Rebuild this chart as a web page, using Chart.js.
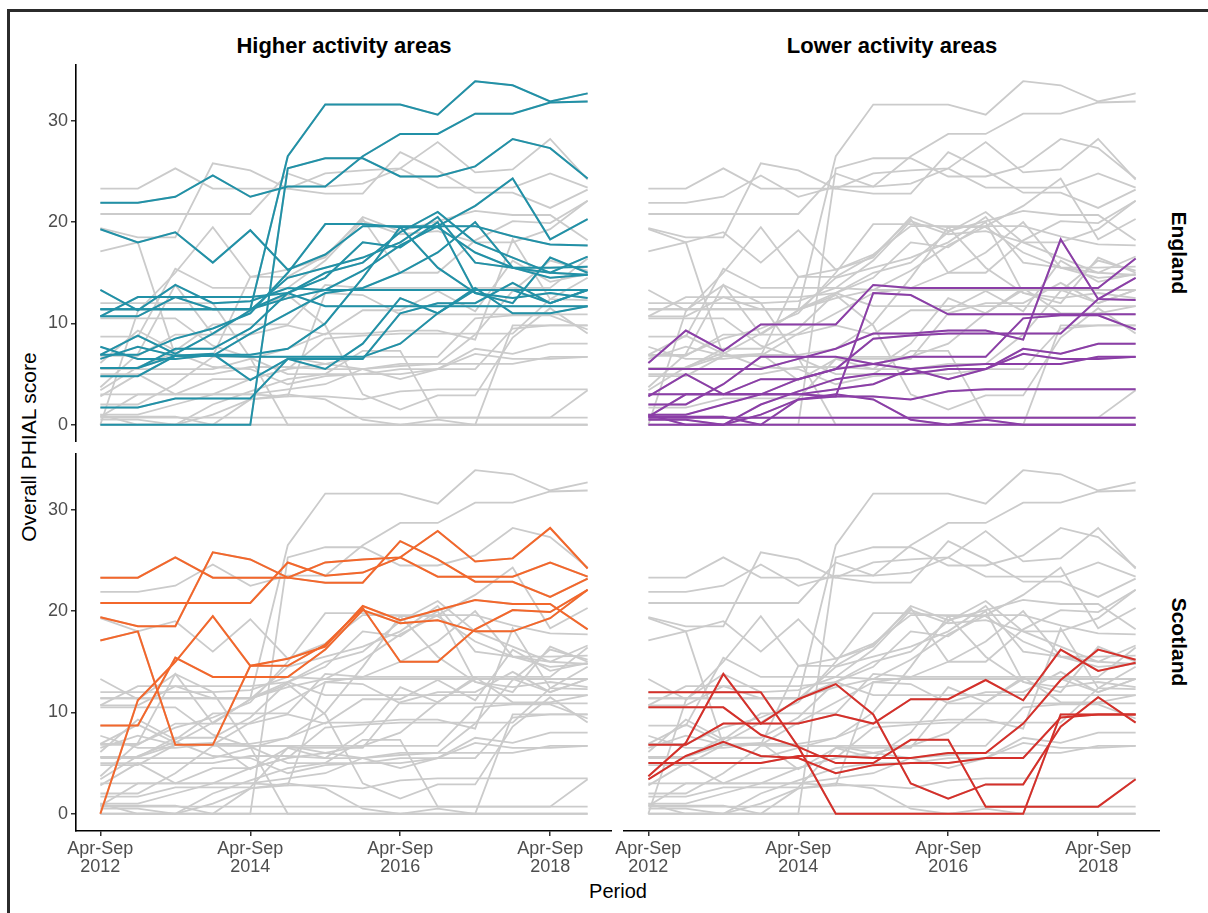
<!DOCTYPE html>
<html>
<head>
<meta charset="utf-8">
<script src="https://cdn.jsdelivr.net/npm/chart.js@4.4.1/dist/chart.umd.min.js"></script>
<style>
  body { margin: 0; width: 1208px; height: 913px; background: #fff; position: relative; overflow: hidden;
         font-family: "Liberation Sans", Arial, sans-serif; }
  .frame { position: absolute; left: 7px; top: 9px; width: 1300px; height: 1000px; border: 3px solid #2b2b2b; }
  canvas { position: absolute; }
  .lbl { position: absolute; white-space: nowrap; color: #000; line-height: 1; }
  .title { font-weight: bold; font-size: 22px; transform: translate(-50%, -50%); }
  .strip { font-weight: bold; font-size: 21px; transform: translate(-50%, -50%) rotate(90deg); }
  .axis { font-size: 20px; transform: translate(-50%, -50%); }
</style>
</head>
<body>
<div class="frame"></div>

<div class="lbl title" style="left:344px;top:46px">Higher activity areas</div>
<div class="lbl title" style="left:892px;top:46px">Lower activity areas</div>
<div class="lbl strip" style="left:1179px;top:253px">England</div>
<div class="lbl strip" style="left:1179px;top:642px">Scotland</div>
<div class="lbl axis" style="left:28px;top:447px;font-size:21px;transform:translate(-50%,-50%) rotate(-90deg)">Overall PHIAL score</div>
<div class="lbl axis" style="left:618px;top:891px">Period</div>

<canvas id="c1" width="572" height="378" style="left:40px;top:64px"></canvas>
<canvas id="c2" width="536" height="378" style="left:624px;top:64px"></canvas>
<canvas id="c3" width="572" height="460" style="left:40px;top:453px"></canvas>
<canvas id="c4" width="560" height="460" style="left:600px;top:453px"></canvas>

<script>
// Half-year periods
const periods = ['Apr-Sep 2012', 'Oct-Mar 2012/13', 'Apr-Sep 2013', 'Oct-Mar 2013/14',
  'Apr-Sep 2014', 'Oct-Mar 2014/15', 'Apr-Sep 2015', 'Oct-Mar 2015/16',
  'Apr-Sep 2016', 'Oct-Mar 2016/17', 'Apr-Sep 2017', 'Oct-Mar 2017/18',
  'Apr-Sep 2018', 'Oct-Mar 2018/19'];
const xTicks = [0, 4, 8, 12];
const yTicks = [0, 10, 20, 30];

// England, higher activity areas
const englandHigher = [
  [11.4, 11.4, 11.4, 11.4, 11.4, 26.5, 31.6, 31.6, 31.6, 30.6, 33.9, 33.5, 31.9, 32.7],
  [0, 0, 0, 0, 0, 25.3, 26.3, 26.3, 24.5, 24.5, 25.5, 28.2, 27.3, 24.3],
  [21.9, 21.9, 22.5, 24.6, 22.5, 23.5, 23.5, 26.5, 28.7, 28.7, 30.7, 30.7, 31.8, 31.9],
  [19.3, 18.0, 19.0, 16.0, 19.2, 15.3, 16.8, 19.6, 19.6, 19.6, 19.6, 18.6, 17.8, 17.7],
  [13.3, 11.3, 13.8, 12.0, 12.2, 13.5, 13.3, 15.2, 17.7, 19.6, 21.6, 24.3, 18.3, 20.3],
  [10.7, 12.6, 12.6, 11.4, 11.4, 13.0, 11.7, 11.7, 11.7, 11.7, 11.7, 11.7, 11.7, 11.7],
  [6.9, 8.8, 7.0, 9.0, 11.3, 14.5, 15.5, 16.5, 18.0, 20.5, 16.0, 15.5, 15.5, 15.6],
  [5.6, 5.6, 7.5, 7.5, 9.5, 13.0, 15.0, 16.0, 19.0, 21.0, 18.0, 16.5, 15.0, 16.6],
  [6.5, 7.7, 6.8, 6.8, 6.7, 6.7, 6.7, 6.7, 8.0, 11.0, 13.3, 13.3, 13.3, 13.3],
  [4.8, 4.8, 6.8, 7.0, 4.4, 6.5, 5.5, 8.0, 12.5, 11.0, 13.5, 11.0, 11.0, 11.7],
  [1.7, 1.7, 2.6, 2.6, 2.6, 6.5, 6.5, 6.5, 11.0, 12.0, 12.0, 14.0, 12.0, 13.3],
  [5.6, 5.6, 6.8, 6.8, 9.0, 11.0, 13.0, 13.5, 15.0, 17.0, 20.0, 15.5, 14.5, 14.8],
  [7.7, 6.5, 6.5, 6.9, 6.9, 7.5, 10.0, 14.5, 19.5, 15.5, 13.0, 12.0, 16.5, 15.0],
  [11.4, 11.4, 11.4, 11.4, 11.4, 12.5, 13.3, 13.3, 13.3, 13.3, 13.3, 13.3, 12.0, 13.3],
  [10.7, 10.7, 12.6, 12.6, 12.6, 13.0, 14.5, 18.0, 17.5, 20.0, 13.0, 12.5, 13.0, 12.5],
  [6.9, 6.9, 8.5, 9.5, 11.0, 15.0, 19.8, 19.8, 19.5, 19.5, 17.0, 15.5, 15.0, 14.8]
];

// England, lower activity areas
const englandLower = [
  [6.1, 9.3, 7.3, 9.9, 9.9, 9.9, 13.8, 13.5, 13.5, 13.5, 13.5, 13.5, 13.5, 16.4],
  [3.0, 3.0, 3.0, 3.0, 3.0, 2.8, 13.0, 12.8, 10.9, 10.9, 10.9, 10.9, 10.9, 10.9],
  [5.5, 5.5, 5.5, 5.5, 6.5, 7.5, 9.0, 9.0, 9.3, 9.3, 8.4, 18.3, 12.4, 12.3],
  [2.8, 5.0, 3.0, 3.0, 4.5, 5.5, 8.5, 8.8, 9.0, 9.0, 9.0, 9.0, 12.4, 14.5],
  [0.8, 3.0, 3.0, 4.5, 4.5, 5.5, 6.0, 6.7, 6.7, 6.7, 10.5, 10.8, 10.8, 9.4],
  [2.0, 2.0, 4.0, 6.7, 6.7, 6.7, 6.0, 5.5, 4.5, 5.5, 7.5, 7.0, 8.0, 8.0],
  [1.0, 1.0, 2.0, 3.0, 3.0, 3.5, 4.0, 5.5, 5.8, 6.0, 6.0, 6.0, 6.7, 6.7],
  [0.5, 0.5, 0.0, 1.0, 2.5, 2.8, 2.8, 2.5, 3.3, 3.5, 3.5, 3.5, 3.5, 3.5],
  [0.8, 0.8, 0.8, 0.0, 2.5, 3.0, 2.5, 0.5, 0.0, 0.5, 0.0, 0.0, 0.0, 0.0],
  [0.7, 0.7, 0.7, 0.7, 0.7, 0.7, 0.7, 0.7, 0.7, 0.7, 0.7, 0.7, 0.7, 0.7],
  [0, 0, 0, 0, 0, 0, 0, 0, 0, 0, 0, 0, 0, 0],
  [1.0, 0.0, 0.0, 2.0, 3.3, 4.5, 5.0, 5.0, 5.5, 5.5, 7.0, 6.5, 6.5, 6.7]
];

// Scotland, higher activity areas
const scotlandHigher = [
  [23.3, 23.3, 25.3, 23.3, 23.3, 23.3, 24.8, 25.1, 25.3, 27.9, 24.9, 25.2, 28.2, 24.2],
  [19.4, 18.5, 18.5, 25.8, 25.1, 23.3, 22.8, 22.8, 26.9, 25.1, 22.9, 22.9, 21.4, 23.2],
  [20.8, 20.8, 20.8, 20.8, 20.8, 24.8, 23.5, 23.8, 25.3, 23.4, 23.4, 23.4, 24.8, 23.4],
  [17.1, 18.0, 6.8, 6.8, 14.6, 14.6, 16.7, 20.3, 15.0, 15.0, 18.2, 20.1, 19.9, 22.1],
  [8.7, 8.7, 15.4, 13.5, 13.5, 13.5, 16.2, 20.1, 18.8, 19.1, 18.0, 18.0, 19.3, 22.1],
  [0, 11.2, 15.0, 19.5, 14.6, 15.3, 16.5, 20.5, 19.1, 20.1, 21.1, 20.7, 20.7, 18.2]
];

// Scotland, lower activity areas
const scotlandLower = [
  [12.0, 12.0, 12.0, 12.0, 6.6, 0, 0, 0, 0, 0, 0, 9.8, 9.8, 9.8],
  [10.5, 10.5, 10.5, 7.8, 6.6, 5.0, 5.0, 7.3, 7.3, 0.7, 0.7, 0.7, 0.7, 3.4],
  [3.7, 7.0, 13.8, 8.9, 11.3, 12.8, 9.8, 3.0, 1.5, 2.9, 2.9, 8.6, 11.5, 9.0],
  [6.8, 6.8, 8.9, 8.9, 8.9, 9.8, 8.9, 11.3, 11.3, 13.2, 11.2, 16.2, 14.1, 14.9],
  [5.0, 5.0, 5.0, 5.0, 5.7, 5.7, 5.5, 5.5, 6.0, 6.0, 8.9, 13.2, 16.2, 15.2],
  [3.4, 5.7, 7.1, 5.7, 5.5, 4.0, 4.8, 5.0, 5.0, 5.5, 5.5, 9.5, 9.8, 9.8]
];

const allAreas = [englandHigher, englandLower, scotlandHigher, scotlandLower];
const FONT = "'Liberation Sans', Arial, sans-serif";

function toPoints(values) {
  return values.map((v, i) => ({ x: i, y: v }));
}

function makePanel(id, group, colour, showY, showX, padLeft) {
  const datasets = [];
  // grey background: every area
  allAreas.forEach(g => g.forEach(s => {
    datasets.push({ data: toPoints(s), borderColor: '#cbcbcb', borderWidth: 1.8, order: 2 });
  }));
  // highlighted areas of this panel
  group.forEach(s => {
    datasets.push({ data: toPoints(s), borderColor: colour, borderWidth: 2, order: 1 });
  });

  new Chart(document.getElementById(id), {
    type: 'line',
    data: { datasets },
    options: {
      responsive: false,
      animation: false,
      events: [],
      layout: { padding: { left: padLeft, right: 0, top: 0, bottom: 0 }, autoPadding: false },
      elements: { point: { radius: 0 }, line: { tension: 0 } },
      plugins: { legend: { display: false }, tooltip: { enabled: false } },
      scales: {
        x: {
          type: 'linear', min: -0.65, max: 13.65, display: showX,
          afterBuildTicks: s => { s.ticks = xTicks.map(v => ({ value: v })); },
          afterFit: s => {
            s.height = showX ? 82 : 0;
            s.paddingLeft = 0; s.paddingRight = 0;
          },
          ticks: {
            callback: v => periods[v].split(' '),
            font: { size: 18, family: FONT, lineHeight: 1.0 },
            color: '#4d4d4d', padding: 4, maxRotation: 0, autoSkip: false
          },
          grid: { drawOnChartArea: false, tickLength: 5, color: '#333', lineWidth: 1.5 },
          border: { color: '#000', width: 1.6 }
        },
        y: {
          min: -1.7, max: 35.6, display: showY,
          afterBuildTicks: s => { s.ticks = yTicks.map(v => ({ value: v })); },
          afterFit: s => {
            s.width = showY ? 36 : 0;
            s.paddingTop = 0; s.paddingBottom = 0;
          },
          ticks: { font: { size: 18, family: FONT }, color: '#4d4d4d', padding: 3 },
          grid: { drawOnChartArea: false, tickLength: 5, color: '#333', lineWidth: 1.5 },
          border: { color: '#000', width: 1.6 }
        }
      }
    }
  });
}

makePanel('c1', englandHigher, '#2191a7', true, false, 0);
makePanel('c2', englandLower, '#8b3ea7', false, false, 0);
makePanel('c3', scotlandHigher, '#f3672b', true, true, 0);
makePanel('c4', scotlandLower, '#d5302a', false, true, 24);
</script>
</body>
</html>
